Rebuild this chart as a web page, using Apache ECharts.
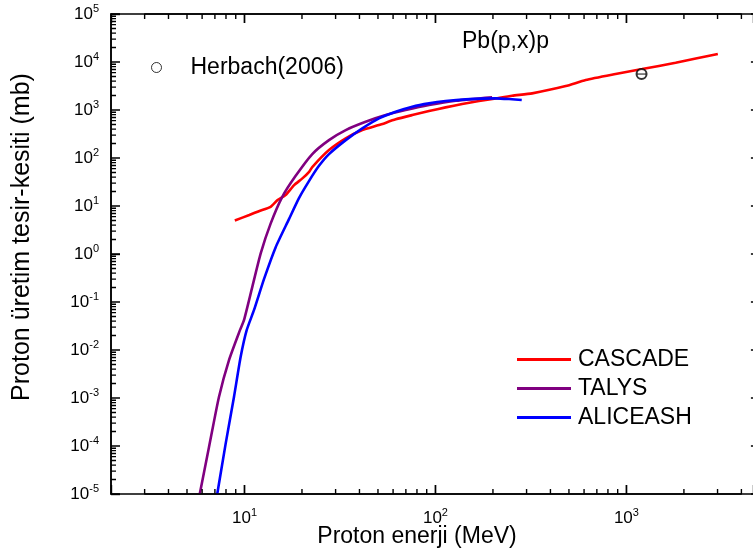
<!DOCTYPE html>
<html>
<head>
<meta charset="utf-8">
<script src="https://cdn.jsdelivr.net/npm/echarts@6/dist/echarts.min.js"></script>
<style>html,body{margin:0;padding:0;background:#fff}#c{width:753px;height:558px}</style>
</head>
<body>
<div id="c"></div>
<script>
// ---- data (energy in MeV, cross section in mb) ----
const cascadeEnergy = [8.9, 10.6, 11.9, 13.7, 14.9, 16.4, 18.2, 20.1, 21.8, 22.7, 27.7, 33.9, 41.4, 50.6, 61.9, 75.6, 92.5, 113, 138, 169, 207, 252, 321, 481, 612, 877, 1209, 1810, 3010];
const cascadeXS     = [5.0, 6.5, 7.8, 9.6, 13.3, 16.9, 27.3, 37.6, 51.6, 65.6, 146, 256, 382, 485, 638, 784, 950, 1135, 1330, 1536, 1748, 1981, 2222, 3155, 4209, 5611, 7130, 9656, 14660];

const talysEnergy = [5.83, 6.52, 7.35, 8.29, 9.47, 9.94, 10.99, 12.16, 13.72, 15.77, 18.5, 22.65, 27.7, 33.9, 43.1, 54.9, 69.8, 92.5, 128, 198];
const talysXS     = [1e-5, 9.5e-5, 1.05e-3, 6.1e-3, 0.0259, 0.0418, 0.207, 1.03, 4.34, 15.5, 42, 121, 236, 382, 569, 784, 997, 1268, 1559, 1834];

const aliceEnergy = [7.2, 7.97, 8.81, 9.55, 10.27, 11.21, 12.65, 14.57, 17.1, 19.29, 21.76, 24.5, 27.7, 33.9, 41.4, 50.6, 61.9, 75.6, 92.5, 113, 144, 207, 243, 283];
const aliceXS     = [1e-5, 1.12e-4, 1.05e-3, 7.2e-3, 0.0259, 0.0675, 0.299, 1.39, 5.33, 14.6, 33.0, 67.8, 120.6, 236, 414, 670, 919, 1169, 1375, 1536, 1666, 1748, 1690, 1611];

const herbachEnergy = [1200];
const herbachXS     = [5610];

// ---- axes / ticks ----
const xMin = 2, xMax = 4600, yMin = 1e-5, yMax = 1e5;   // visible part of the x axis
const xFrameEnd = 5000;                                  // right frame lies just outside the picture
const xMajorTicks = [10, 100, 1000];
const xMinorTicks = [3,4,5,6,7,8,9, 20,30,40,50,60,70,80,90, 200,300,400,500,600,700,800,900, 2000,3000,4000];
const xTickExponents = ['1', '2', '3'];
const yMajorTicks = [1e-5,1e-4,1e-3,1e-2,1e-1,1,10,100,1000,1e4,1e5];
const yTickExponents = ['-5','-4','-3','-2','-1','0','1','2','3','4','5'];
const yMinorMantissas = [2,3,4,5,6,7,8,9];
const yMinorTicks = [];
yMajorTicks.slice(0, -1).forEach(d => yMinorMantissas.forEach(m => yMinorTicks.push(+(m * d).toPrecision(3))));

const FONT = '"Liberation Sans", Arial, Helvetica, sans-serif';
const zip = (a, b) => a.map((v, i) => [v, b[i]]);
const MAJOR_LEN = 9, MINOR_LEN = 5;

const richLabel = {
  a: { fontSize: 17, fontFamily: FONT, fill: '#000', lineHeight: 19, verticalAlign: 'bottom' },
  s: { fontSize: 11, fontFamily: FONT, fill: '#000', lineHeight: 12, verticalAlign: 'top' }
};
function xLabelRender(params, api) {
  const cs = params.coordSys;
  const p = api.coord([api.value(0), 1]);
  return { type: 'text', x: p[0], y: cs.y + cs.height + 23,
    style: { text: '{a|10}{s|' + xTickExponents[params.dataIndex] + '}', rich: richLabel, align: 'center', verticalAlign: 'middle' } };
}
function yLabelRender(params, api) {
  const cs = params.coordSys;
  const p = api.coord([10, api.value(1)]);
  return { type: 'text', x: cs.x - 12, y: p[1] - 1,
    style: { text: '{a|10}{s|' + yTickExponents[params.dataIndex] + '}', rich: richLabel, align: 'right', verticalAlign: 'middle' } };
}
const custom = (data, fn) => ({ type: 'custom', clip: false, data: data, renderItem: fn });
const hiddenAxisParts = { axisLabel: { show: false }, splitLine: { show: false } };
const nativeTick = { show: true, inside: true, length: MAJOR_LEN, lineStyle: { color: '#000', width: 1.4 } };
const frameLine = { show: true, onZero: false, lineStyle: { color: '#000', width: 1.6 } };

const chart = echarts.init(document.getElementById('c'), null, { renderer: 'canvas' });
chart.setOption({
  animation: false,
  textStyle: { fontFamily: FONT },
  grid: { left: 111, top: 14, right: 0, height: 480, show: false },
  xAxis: [
    Object.assign({ type: 'log', min: xMin, max: xMax, position: 'bottom', axisLine: frameLine, axisTick: nativeTick }, hiddenAxisParts),
    Object.assign({ type: 'log', min: xMin, max: xMax, position: 'top', axisLine: frameLine, axisTick: nativeTick }, hiddenAxisParts)
  ],
  yAxis: Object.assign({ type: 'log', min: yMin, max: yMax, position: 'left', axisLine: frameLine, axisTick: nativeTick, splitNumber: 10 }, hiddenAxisParts),
  legend: [
    { orient: 'vertical', left: 517, top: 348, padding: 0, itemWidth: 54, itemHeight: 3, itemGap: 6,
      data: [{ name: 'CASCADE', icon: 'rect' }, { name: 'TALYS', icon: 'rect' }, { name: 'ALICEASH', icon: 'rect' }],
      textStyle: { fontSize: 23, color: '#000', fontFamily: FONT, lineHeight: 23, padding: [0, 0, 0, 2] } },
    { left: 151, top: 56, padding: 0, itemWidth: 10, itemHeight: 10,
      data: [{ name: 'Herbach(2006)', icon: 'circle', itemStyle: { color: 'rgba(0,0,0,0)', borderColor: '#000', borderWidth: 1 } }],
      textStyle: { fontSize: 23, color: '#000', fontFamily: FONT, lineHeight: 23, padding: [0, 0, 0, 24] } }
  ],
  series: [
    { name: 'CASCADE', type: 'line', data: zip(cascadeEnergy, cascadeXS), symbol: 'none', showSymbol: false, smooth: 0.2,
      lineStyle: { color: '#ff0000', width: 2.6 }, itemStyle: { color: '#ff0000' }, z: 3 },
    { name: 'TALYS', type: 'line', data: zip(talysEnergy, talysXS), symbol: 'none', showSymbol: false, smooth: 0.2,
      lineStyle: { color: '#800080', width: 2.6 }, itemStyle: { color: '#800080' }, z: 3 },
    { name: 'ALICEASH', type: 'line', data: zip(aliceEnergy, aliceXS), symbol: 'none', showSymbol: false, smooth: 0.2,
      lineStyle: { color: '#0000ff', width: 2.6 }, itemStyle: { color: '#0000ff' }, z: 4 },
    { name: 'Herbach(2006)', type: 'scatter', data: zip(herbachEnergy, herbachXS), symbol: 'emptyCircle', symbolSize: 10,
      itemStyle: { color: '#000', borderColor: '#000', borderWidth: 1 }, z: 6 },
    { name: 'Herbach err', type: 'scatter', data: zip(herbachEnergy, herbachXS), symbol: 'rect', symbolSize: [9, 1.2],
      itemStyle: { color: '#000' }, z: 7 },
    custom(xMajorTicks.map(v => [v, 1]), xLabelRender),
    custom(yMajorTicks.map(v => [10, v]), yLabelRender)
  ]
});

// ---- frame ticks as one comb-shaped polyline per side, placed through the axes' own scales ----
const px = v => chart.convertToPixel({ xAxisIndex: 0 }, v);
const py = v => chart.convertToPixel({ yAxisIndex: 0 }, v);
const gLeft = px(xMin), gRight = px(xFrameEnd), gTop = py(yMax), gBottom = py(yMin);
const xTicks = xMajorTicks.map(v => [px(v), MAJOR_LEN]).concat(xMinorTicks.map(v => [px(v), MINOR_LEN])).sort((a, b) => a[0] - b[0]);
const yTicks = yMajorTicks.map(v => [py(v), MAJOR_LEN]).concat(yMinorTicks.map(v => [py(v), MINOR_LEN])).sort((a, b) => a[0] - b[0]);
const comb = (ticks, base, dir, horizontal) => {
  const pts = [];
  ticks.forEach(([p, len]) => {
    if (horizontal) { pts.push([p, base], [p, base + dir * len], [p, base]); }
    else { pts.push([base, p], [base + dir * len, p], [base, p]); }
  });
  return { type: 'polyline', silent: true, z: 50, zlevel: 1, shape: { points: pts },
    style: { stroke: '#000', lineWidth: 1.4, fill: null, lineJoin: 'bevel', lineCap: 'butt' } };
};

chart.setOption({
  graphic: [
    { type: 'text', x: 417, y: 537, style: { text: 'Proton enerji (MeV)', fontSize: 23, fontFamily: FONT, fill: '#000', align: 'center', verticalAlign: 'middle' } },
    { type: 'text', x: 22, y: 237, rotation: Math.PI / 2, style: { text: 'Proton üretim tesir-kesiti (mb)', fontSize: 25, fontFamily: FONT, fill: '#000', align: 'center', verticalAlign: 'middle' } },
    { type: 'text', x: 462, y: 42, style: { text: 'Pb(p,x)p', fontSize: 23, fontFamily: FONT, fill: '#000', align: 'left', verticalAlign: 'middle' } },
    comb(xTicks, gBottom, -1, true),
    comb(xTicks, gTop, 1, true),
    comb(yTicks, gLeft, 1, false),
    comb(yTicks, gRight, -1, false)
  ]
});
</script>
</body>
</html>
